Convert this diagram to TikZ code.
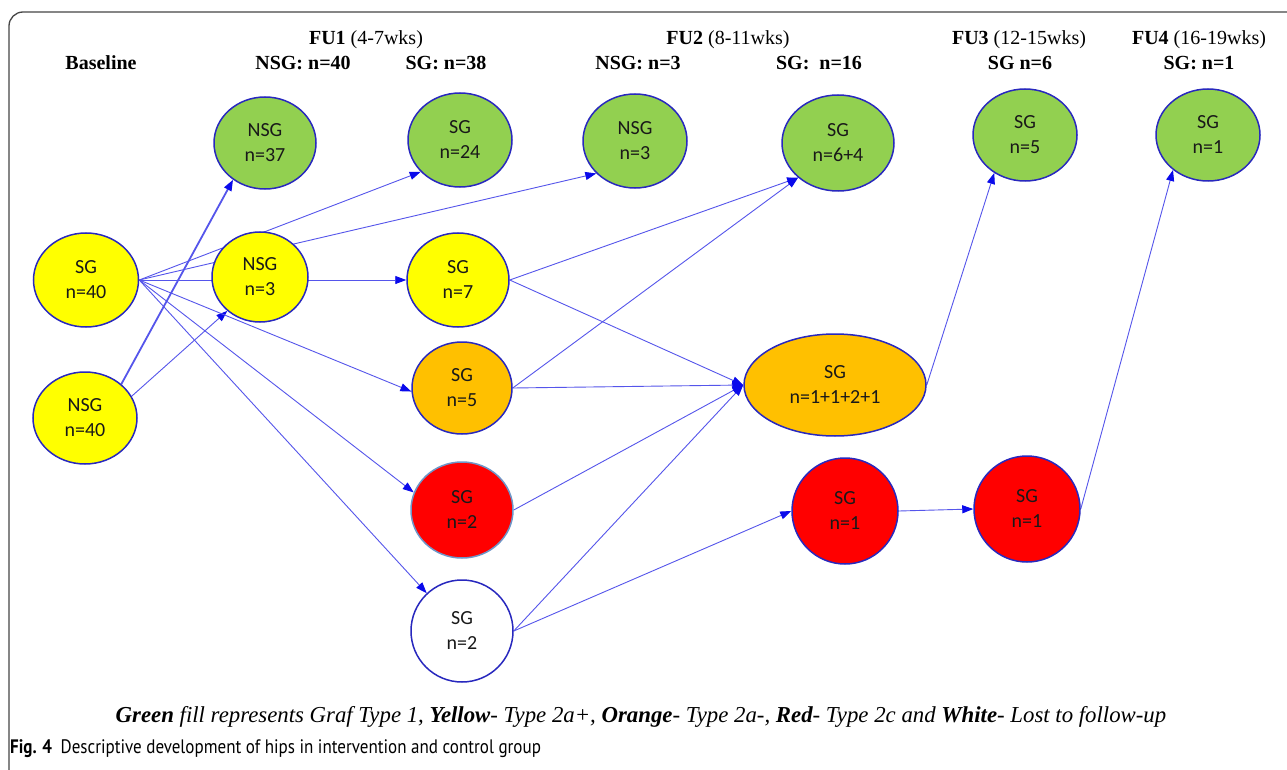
\documentclass[tikz,border=0pt]{standalone}
\usepackage{fontspec}
\setmainfont{Liberation Serif}
\newfontfamily\nodefont{Carlito}
\newfontfamily\capfont{PT Sans}
\usetikzlibrary{arrows.meta,backgrounds,shapes.geometric}
\definecolor{gfill}{RGB}{146,208,80}
\definecolor{yfill}{RGB}{255,255,0}
\definecolor{ofill}{RGB}{255,192,0}
\definecolor{rfill}{RGB}{255,0,0}
\definecolor{nborder}{RGB}{40,40,190}
\definecolor{lborder}{RGB}{110,150,200}
\definecolor{edgec}{RGB}{85,85,235}
\definecolor{tipc}{RGB}{10,10,235}
\definecolor{framec}{RGB}{70,70,70}
\tikzset{
  hip/.style={ellipse, draw=nborder, line width=1.5pt, inner sep=0pt, align=center,
    font=\nodefont\fontsize{20}{25}\selectfont, text=black!90},
  hdr/.style={font=\fontsize{20}{24}\selectfont, inner sep=0pt, anchor=center},
  conn/.style={draw=edgec, line width=0.9pt, -{Triangle[length=11pt,width=8pt,color=tipc]}},
  thickconn/.style={conn, line width=1.8pt}
}
\begin{document}
\begin{tikzpicture}[x=1pt,y=-1pt]
\useasboundingbox (0,0) rectangle (1287,770);

% frame
\draw[framec, line width=1.3pt, rounded corners=14pt] (9,772) -- (9,12) -- (1290,12);

% headers
\node[hdr] (hbase) at (101,63) {\textbf{Baseline}};
\node[hdr] (hfu1) at (366,40) {\textbf{FU1} (4-7wks)};
\node[hdr] (hfu1n) at (303,63) {\textbf{NSG: n=40}};
\node[hdr] (hfu1s) at (446,63) {\textbf{SG: n=38}};
\node[hdr] (hfu2) at (728,40) {\textbf{FU2} (8-11wks)};
\node[hdr] (hfu2n) at (638,63) {\textbf{NSG: n=3}};
\node[hdr] (hfu2s) at (819,63) {\textbf{SG:~~n=16}};
\node[hdr] (hfu3) at (1019,40) {\textbf{FU3} (12-15wks)};
\node[hdr] (hfu3s) at (1020,63) {\textbf{SG n=6}};
\node[hdr] (hfu4) at (1199,40) {\textbf{FU4} (16-19wks)};
\node[hdr] (hfu4s) at (1199,63) {\textbf{SG: n=1}};

% nodes
\node[hip, fill=yfill, minimum width=105pt, minimum height=94pt] (bsg) at (86,280) {SG\\n=40};
\node[hip, fill=yfill, minimum width=104pt, minimum height=92pt] (bnsg) at (85,418) {NSG\\n=40};
\node[hip, fill=gfill, minimum width=102pt, minimum height=92pt] (nsg37) at (265,143) {NSG\\n=37};
\node[hip, fill=yfill, minimum width=96pt, minimum height=90pt] (f1nsg3) at (260,277) {NSG\\n=3};
\node[hip, fill=gfill, minimum width=104pt, minimum height=94pt] (sg24) at (460,140) {SG\\n=24};
\node[hip, fill=yfill, minimum width=102pt, minimum height=94pt] (sg7) at (458,280) {SG\\n=7};
\node[hip, fill=ofill, minimum width=100pt, minimum height=92pt] (sg5) at (462,388) {SG\\n=5};
\node[hip, fill=rfill, draw=lborder, minimum width=102pt, minimum height=96pt] (sg2r) at (462,510) {SG\\n=2};
\node[hip, fill=white, minimum width=102pt, minimum height=102pt] (sg2w) at (462,631) {SG\\n=2};
\node[hip, fill=gfill, minimum width=104pt, minimum height=94pt] (f2nsg3) at (635,141) {NSG\\n=3};
\node[hip, fill=gfill, minimum width=112pt, minimum height=96pt] (sg64) at (838,143) {SG\\n=6+4};
\node[hip, fill=ofill, minimum width=182pt, minimum height=102pt] (big) at (835,385) {SG\\n=1+1+2+1};
\node[hip, fill=rfill, minimum width=106pt, minimum height=106pt] (f2sg1) at (845,511) {SG\\n=1};
\node[hip, fill=rfill, minimum width=106pt, minimum height=106pt] (f3sg1) at (1027,509) {SG\\n=1};
\node[hip, fill=gfill, minimum width=104pt, minimum height=92pt] (f3sg5) at (1025,135) {SG\\n=5};
\node[hip, fill=gfill, minimum width=104pt, minimum height=92pt] (f4sg1) at (1208,135) {SG\\n=1};

% connectors
\begin{scope}[on background layer]
\fill[white] (0,0) rectangle (1287,770);
\draw[thickconn] (bnsg.43) -- (nsg37.229);
\draw[conn] (bnsg.25) -- (f1nsg3.226);
\draw[conn] (bsg.east) -- (sg24.219);
\draw[conn] (bsg.east) -- (f2nsg3.220);
\draw[conn] (bsg.east) -- (sg7.west);
\draw[conn] (bsg.east) -- (sg5.184);
\draw[conn] (bsg.east) -- (sg2r.160);
\draw[conn] (bsg.east) -- (sg2w.133);
\draw[conn] (sg7.east) -- (sg64.221);
\draw[conn] (sg5.east) -- (sg64.221);
\draw[conn] (sg7.east) -- (big.west);
\draw[conn] (sg5.east) -- (big.west);
\draw[conn] (sg2r.east) -- (big.west);
\draw[conn] (sg2w.east) -- (big.west);
\draw[conn] (sg2w.east) -- (f2sg1.west);
\draw[conn] (f2sg1.east) -- (f3sg1.west);
\draw[conn] (big.east) -- (f3sg5.231);
\draw[conn] (f3sg1.east) -- (f4sg1.225);
\end{scope}

% legend and caption
\node[font=\fontsize{22.8}{26}\selectfont\itshape, inner sep=0pt] (legend) at (641,717)
  {\textbf{Green} fill represents Graf Type 1, \textbf{Yellow}- Type 2a+, \textbf{Orange}- Type 2a-, \textbf{Red}- Type 2c and \textbf{White}- Lost to follow-up};
\node[font=\capfont\fontsize{19.5}{22}\selectfont, inner sep=0pt, anchor=west] (caption) at (10,749)
  {\scalebox{0.873}[1]{\textbf{Fig. 4}\enspace Descriptive development of hips in intervention and control group}};
\end{tikzpicture}
\end{document}
